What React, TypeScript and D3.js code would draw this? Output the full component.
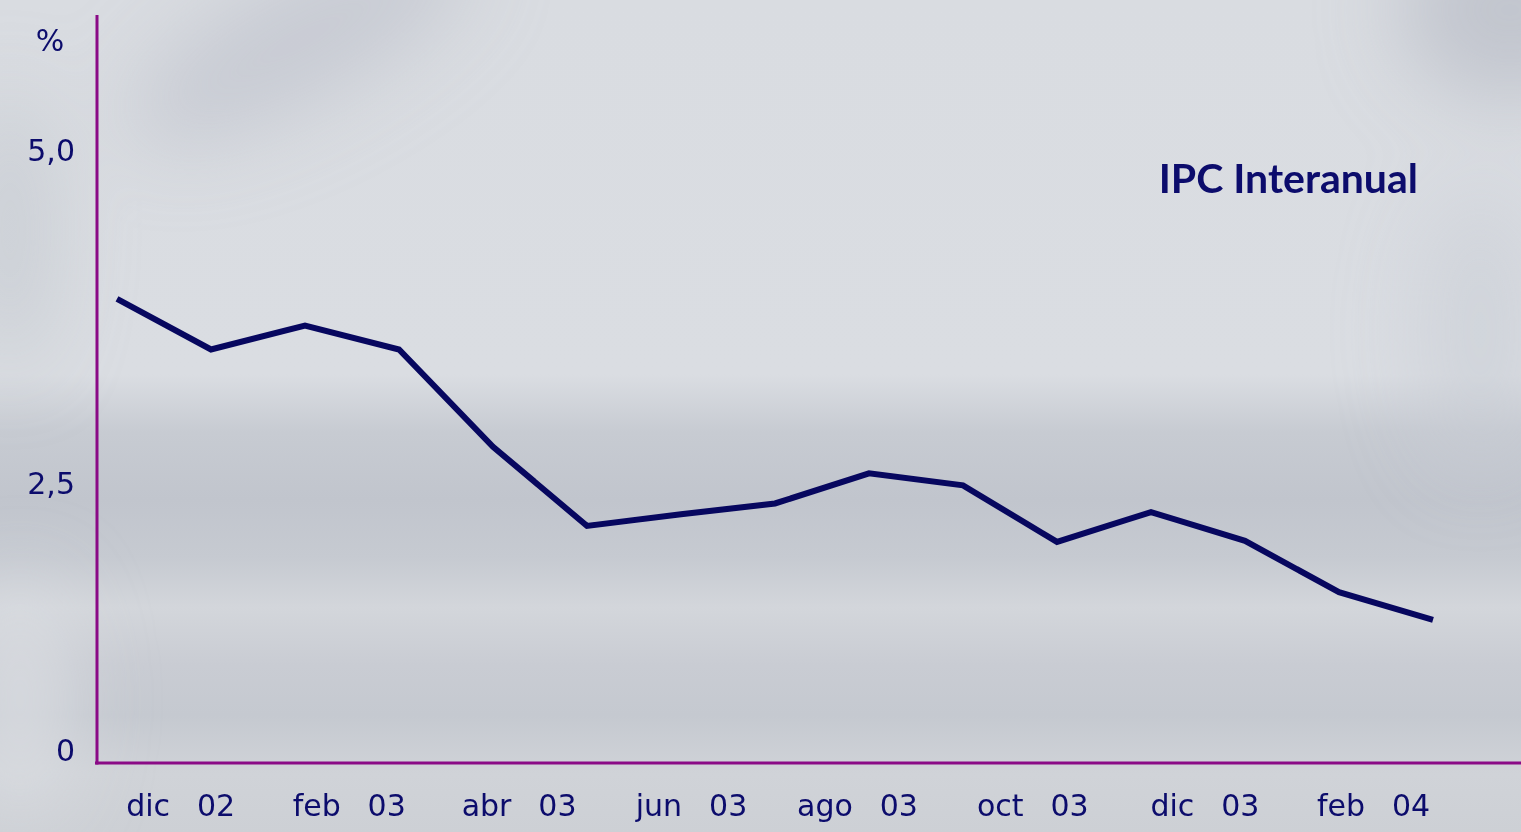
import React from "react";
import * as d3 from "d3";

const months = ["dic 02", "ene 03", "feb 03", "mar 03", "abr 03", "may 03", "jun 03", "jul 03", "ago 03", "sep 03", "oct 03", "nov 03", "dic 03", "ene 04", "feb 04"];
const ipcValues = [3.98, 3.6, 3.78, 3.6, 2.87, 2.22, 2.33, 2.43, 2.67, 2.58, 2.07, 2.35, 2.08, 1.6, 1.34];
const axisLabelMonths = ["dic", "feb", "abr", "jun", "ago", "oct", "dic", "feb"];
const axisLabelYears = ["02", "03", "03", "03", "03", "03", "03", "04"];
const yTicks = [0, 2.5, 5];
const yTickLabels = ["0", "2,5", "5,0"];
const seriesTitle = "IPC Interanual";
const unitLabel = "%";

const W = 1521;
const H = 832;
const NAVY = "#0c0c6c";
const LINE = "#07075f";
const PURPLE = "#8a0a86";
const FONT = "'DejaVu Sans', Lato, sans-serif";
const TITLE_FONT = "Lato, 'Open Sans', sans-serif";

export default function App() {
  const x = d3.scalePoint<string>().domain(months).range([117, 1433]);
  const y = d3.scaleLinear().domain([0, 2.5, 5]).range([763, 496, 163]);
  const xLab = d3.scalePoint<number>().domain(d3.range(axisLabelMonths.length)).range([177, 1372]);

  const line = d3
    .line<number>()
    .x((_, i) => x(months[i]) as number)
    .y((d) => y(d));

  return (
    <div style={{ position: "fixed", left: 0, top: 0, width: W, height: H, overflow: "hidden" }}>
      <svg width={W} height={H} style={{ display: "block" }}>
        <defs>
          <linearGradient id="bgv" x1="0" y1="0" x2="0" y2="1">
            <stop offset="0" stopColor="#d9dce1" />
            <stop offset="0.45" stopColor="#dadde2" />
            <stop offset="0.52" stopColor="#c7cbd2" />
            <stop offset="0.6" stopColor="#c1c5cd" />
            <stop offset="0.67" stopColor="#c6cad1" />
            <stop offset="0.73" stopColor="#d3d6db" />
            <stop offset="0.8" stopColor="#c9ccd3" />
            <stop offset="0.86" stopColor="#c5c9d0" />
            <stop offset="0.93" stopColor="#d0d3d8" />
            <stop offset="1" stopColor="#cdd0d5" />
          </linearGradient>
          <filter id="blur" x="-50%" y="-50%" width="200%" height="200%">
            <feGaussianBlur stdDeviation="40" />
          </filter>
        </defs>
        <rect x={0} y={0} width={W} height={H} fill="url(#bgv)" />
        <g filter="url(#blur)">
          <ellipse cx={300} cy={40} rx={190} ry={60} transform="rotate(-28 300 40)" fill="#bcc0c9" opacity={0.6} />
          <ellipse cx={1510} cy={10} rx={110} ry={90} fill="#b8bcc6" opacity={0.7} />
          <ellipse cx={10} cy={230} rx={40} ry={140} fill="#c0c4cc" opacity={0.6} />
          <ellipse cx={20} cy={700} rx={50} ry={120} fill="#dcdfe3" opacity={0.8} />
          <ellipse cx={1480} cy={330} rx={60} ry={140} fill="#c8ccd3" opacity={0.5} />
        </g>

        {/* axes */}
        <line x1={97} x2={97} y1={15} y2={y(0) + 1.5} stroke={PURPLE} strokeWidth={3} />
        <line x1={95} x2={W} y1={y(0)} y2={y(0)} stroke={PURPLE} strokeWidth={3} />

        {/* y tick labels */}
        {yTicks.map((t, i) => (
          <text
            key={t}
            x={75}
            y={y(t) - 13}
            dy="0.36em"
            textAnchor="end"
            fontFamily={FONT}
            fontSize={30}
            fill={NAVY}
          >
            {yTickLabels[i]}
          </text>
        ))}
        <text x={50} y={40} dy="0.36em" textAnchor="middle" fontFamily={FONT} fontSize={30} fill={NAVY}>
          {unitLabel}
        </text>

        {/* x labels */}
        {axisLabelMonths.map((m, i) => {
          const cx = xLab(i) as number;
          return (
            <g key={i} fontFamily={FONT} fontSize={30} fill={NAVY}>
              <text x={cx - 7} y={816} textAnchor="end">{m}</text>
              <text x={cx + 39} y={816} textAnchor="middle">{axisLabelYears[i]}</text>
            </g>
          );
        })}

        {/* series */}
        <path d={line(ipcValues) || ""} fill="none" stroke={LINE} strokeWidth={6} strokeLinejoin="miter" />

        <text x={1418} y={193} textAnchor="end" fontFamily={TITLE_FONT} fontWeight={700} fontSize={41} fill={NAVY}>
          {seriesTitle}
        </text>
      </svg>
    </div>
  );
}
